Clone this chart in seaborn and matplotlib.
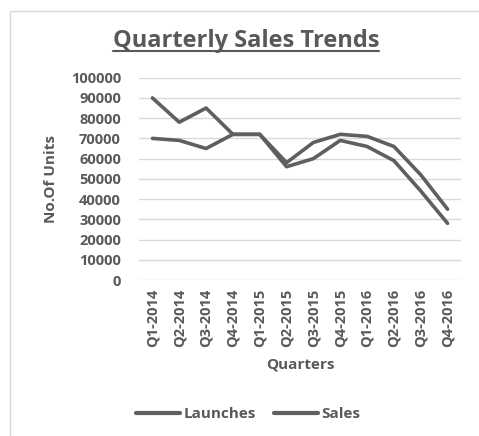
import matplotlib
matplotlib.use("Agg")
import matplotlib.pyplot as plt
from matplotlib.lines import Line2D
import seaborn as sns
import pandas as pd

quarters = ["Q1-2014", "Q2-2014", "Q3-2014", "Q4-2014",
            "Q1-2015", "Q2-2015", "Q3-2015", "Q4-2015",
            "Q1-2016", "Q2-2016", "Q3-2016", "Q4-2016"]
launches = [90000, 78000, 85000, 72000, 72000, 56000, 60000, 69000, 66000, 59000, 44000, 28000]
sales = [70000, 69000, 65000, 72000, 72000, 58000, 68000, 72000, 71000, 66000, 52000, 35000]
yticks = list(range(0, 100001, 10000))

df = pd.DataFrame({
    "Quarter": quarters * 2,
    "Units": launches + sales,
    "Series": ["Launches"] * len(quarters) + ["Sales"] * len(quarters),
})

sns.set_theme(style="white")
plt.rcParams["font.family"] = ["Open Sans", "DejaVu Sans"]
plt.rcParams["font.weight"] = "bold"

ink = "#595959"
line_col = "#5f5f5f"

fig = plt.figure(figsize=(4.79, 4.36), dpi=100)
ax = fig.add_axes([139 / 479, 1 - 280 / 436, (461 - 139) / 479, (280 - 77.7) / 436])

sns.lineplot(data=df, x="Quarter", y="Units", hue="Series", sort=False,
             palette=[line_col, line_col], linewidth=2.6, ax=ax, legend=False)

ax.set_ylim(0, 100000)
ax.set_xlim(-0.5, len(quarters) - 0.5)
ax.set_yticks(yticks)
ax.set_yticklabels([str(v) for v in yticks])
ax.set_xticks(range(len(quarters)))
ax.set_xticklabels(quarters, rotation=90)
ax.tick_params(axis="both", length=0, labelsize=10.5, labelcolor=ink)
ax.tick_params(axis="y", pad=13)
ax.tick_params(axis="x", pad=6)
for lab in ax.get_xticklabels() + ax.get_yticklabels():
    lab.set_fontweight("bold")
ax.yaxis.grid(True, color="#d9d9d9", linewidth=1)
ax.set_axisbelow(True)
for s in ax.spines.values():
    s.set_visible(False)

ax.set_xlabel("Quarters", fontsize=11, fontweight="bold", color=ink, labelpad=8)
ax.set_ylabel("No.Of Units", fontsize=11, fontweight="bold", color=ink, labelpad=9)

# Title with underline
title = fig.text(246 / 479, 1 - 41 / 436, "Quarterly Sales Trends", ha="center", va="center",
                 fontsize=17, fontweight="bold", color=ink)
fig.canvas.draw()
bb = title.get_window_extent(fig.canvas.get_renderer())
uy = 1 - 51 / 436
fig.add_artist(Line2D([bb.x0 / 479, bb.x1 / 479], [uy, uy], color=ink, linewidth=1.5,
                      transform=fig.transFigure))

# Legend
handles = [Line2D([], [], color=line_col, linewidth=3) for _ in range(2)]
fig.legend(handles, ["Launches", "Sales"], loc="center", bbox_to_anchor=(248 / 479, 1 - 414 / 436),
           ncol=2, frameon=False, handlelength=2.9, handletextpad=0.2, columnspacing=1.2,
           prop={"size": 11, "weight": "bold"}, labelcolor=ink)

# Chart area frame
frame_col = "#d9d9d9"
fig.add_artist(Line2D([10 / 479, 10 / 479], [0, 1 - 11 / 436], color=frame_col, linewidth=1,
                      transform=fig.transFigure))
fig.add_artist(Line2D([10 / 479, 1], [1 - 11 / 436, 1 - 11 / 436], color=frame_col, linewidth=1,
                      transform=fig.transFigure))

fig.savefig("out.png", dpi=100, facecolor="white")
